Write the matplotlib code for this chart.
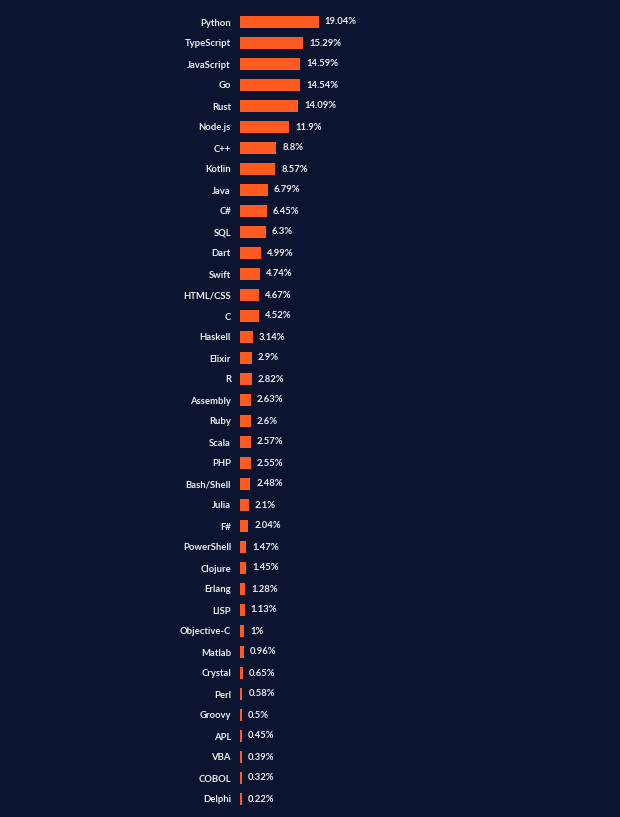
import matplotlib.pyplot as plt

languages = ["Python", "TypeScript", "JavaScript", "Go", "Rust", "Node.js", "C++", "Kotlin",
             "Java", "C#", "SQL", "Dart", "Swift", "HTML/CSS", "C", "Haskell", "Elixir", "R",
             "Assembly", "Ruby", "Scala", "PHP", "Bash/Shell", "Julia", "F#", "PowerShell",
             "Clojure", "Erlang", "LISP", "Objective-C", "Matlab", "Crystal", "Perl", "Groovy",
             "APL", "VBA", "COBOL", "Delphi"]
values = [19.04, 15.29, 14.59, 14.54, 14.09, 11.9, 8.8, 8.57, 6.79, 6.45, 6.3, 4.99, 4.74,
          4.67, 4.52, 3.14, 2.9, 2.82, 2.63, 2.6, 2.57, 2.55, 2.48, 2.1, 2.04, 1.47, 1.45,
          1.28, 1.13, 1.0, 0.96, 0.65, 0.58, 0.5, 0.45, 0.39, 0.32, 0.22]
labels = ["19.04%", "15.29%", "14.59%", "14.54%", "14.09%", "11.9%", "8.8%", "8.57%", "6.79%",
          "6.45%", "6.3%", "4.99%", "4.74%", "4.67%", "4.52%", "3.14%", "2.9%", "2.82%",
          "2.63%", "2.6%", "2.57%", "2.55%", "2.48%", "2.1%", "2.04%", "1.47%", "1.45%",
          "1.28%", "1.13%", "1%", "0.96%", "0.65%", "0.58%", "0.5%", "0.45%", "0.39%",
          "0.32%", "0.22%"]

bg = "#0c1430"
bar_color = "#ff5a1f"
txt = "#ececec"
W, H = 620, 817

fig = plt.figure(figsize=(W / 100, H / 100), dpi=100, facecolor=bg)
# axes placed so rows sit 21px apart, bars start at x=240
ax = fig.add_axes([240 / W, 1 - 809.5 / H, 380 / W, 798 / H])
ax.set_facecolor(bg)

px_per_pct = 4.13
ax.set_xlim(0, 380 / px_per_pct)
ax.set_ylim(len(languages) - 0.5, -0.5)

widths = [max(v, 0.45) for v in values]
ax.barh(range(len(languages)), widths, height=0.57, color=bar_color)

for i, (w, lab) in enumerate(zip(widths, labels)):
    ax.text(w + 6 / px_per_pct, i, lab, va="center", ha="left", color=txt,
            fontsize=6.8, family="Lato", fontweight="bold")

ax.set_yticks(range(len(languages)))
ax.set_yticklabels(languages, color=txt, fontsize=6.8, family="Lato", fontweight="bold")
ax.tick_params(axis="y", length=0, pad=6.5)
ax.set_xticks([])
for s in ax.spines.values():
    s.set_visible(False)

plt.savefig("out.png", dpi=100, facecolor=bg)
